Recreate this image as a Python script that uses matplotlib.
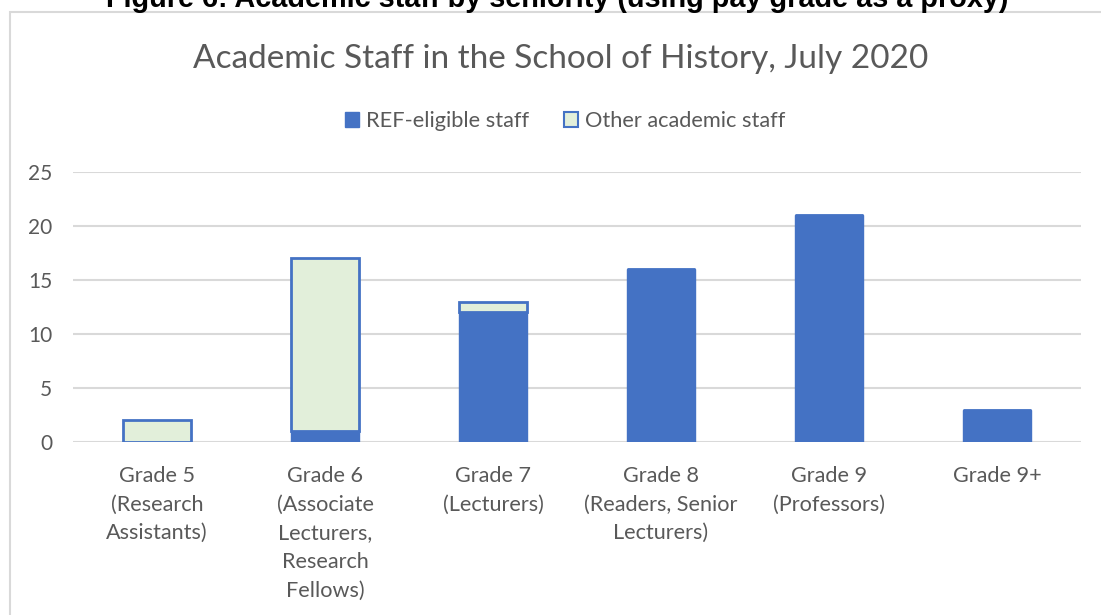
import matplotlib
matplotlib.use("Agg")
import matplotlib.pyplot as plt
from matplotlib.patches import Rectangle, Patch

categories = ["Grade 5\n(Research\nAssistants)",
              "Grade 6\n(Associate\nLecturers,\nResearch\nFellows)",
              "Grade 7\n(Lecturers)",
              "Grade 8\n(Readers, Senior\nLecturers)",
              "Grade 9\n(Professors)",
              "Grade 9+"]
ref_eligible = [0, 1, 12, 16, 21, 3]
other_staff = [2, 16, 1, 0, 0, 0]
yticks = [0, 5, 10, 15, 20, 25]

BLUE = "#4472C4"
GREEN = "#E2EFDA"
GRAY_TXT = "#595959"
GRID = "#D9D9D9"
FONT = "Lato"

W, H = 1101, 615
fig = plt.figure(figsize=(W / 100, H / 100), dpi=100)

# chart border
fig.patches.append(Rectangle((10 / W, -0.05), 1.2, 1 - 12 / H + 0.05,
                             transform=fig.transFigure, fill=False,
                             edgecolor=GRID, linewidth=1.5))

# figure caption (cropped at top in the reference)
fig.text(557 / W, 1 - 7 / H, "Figure 6: Academic staff by seniority (using pay grade as a proxy)",
         ha="center", va="baseline", fontsize=20.8, fontweight="bold",
         family="Liberation Sans", color="black")

ax = fig.add_axes([73 / W, 1 - 442 / H, (1081 - 73) / W, (442 - 172) / H])
x = list(range(len(categories)))
ax.bar(x, ref_eligible, width=0.4, color=BLUE, edgecolor=BLUE, linewidth=1.0, zorder=3)
ax.bar(x, other_staff, width=0.4, bottom=ref_eligible, color=GREEN,
       edgecolor=BLUE, linewidth=2.0, zorder=3)

ax.set_xlim(-0.5, len(categories) - 0.5)
ax.set_ylim(0, 25)
ax.set_yticks(yticks)
ax.set_yticklabels([str(v) for v in yticks], fontsize=15, color=GRAY_TXT, family=FONT)
ax.set_xticks(x)
ax.set_xticklabels(categories, fontsize=15.6, color=GRAY_TXT, family=FONT, linespacing=1.55,
                   va="top")
ax.tick_params(axis="both", length=0)
ax.tick_params(axis="y", pad=15)
ax.tick_params(axis="x", pad=17)
ax.grid(axis="y", color=GRID, linewidth=1.5, zorder=0)
ax.set_axisbelow(True)
for s in ax.spines.values():
    s.set_visible(False)

fig.text(561 / W, 1 - 59 / H, "Academic Staff in the School of History, July 2020",
         ha="center", va="center", fontsize=24, color=GRAY_TXT, family=FONT)

handles = [Patch(facecolor=BLUE, edgecolor=BLUE, label="REF-eligible staff"),
           Patch(facecolor=GREEN, edgecolor=BLUE, linewidth=1.5, label="Other academic staff")]
leg = fig.legend(handles=handles, loc="center", bbox_to_anchor=(565 / W, 1 - 121 / H),
                 ncol=2, frameon=False, fontsize=15.7, handlelength=0.65, handleheight=0.65,
                 handletextpad=0.3, columnspacing=1.6, borderaxespad=0)
for t in leg.get_texts():
    t.set_color(GRAY_TXT)
    t.set_family(FONT)

fig.savefig("out.png", dpi=100)
